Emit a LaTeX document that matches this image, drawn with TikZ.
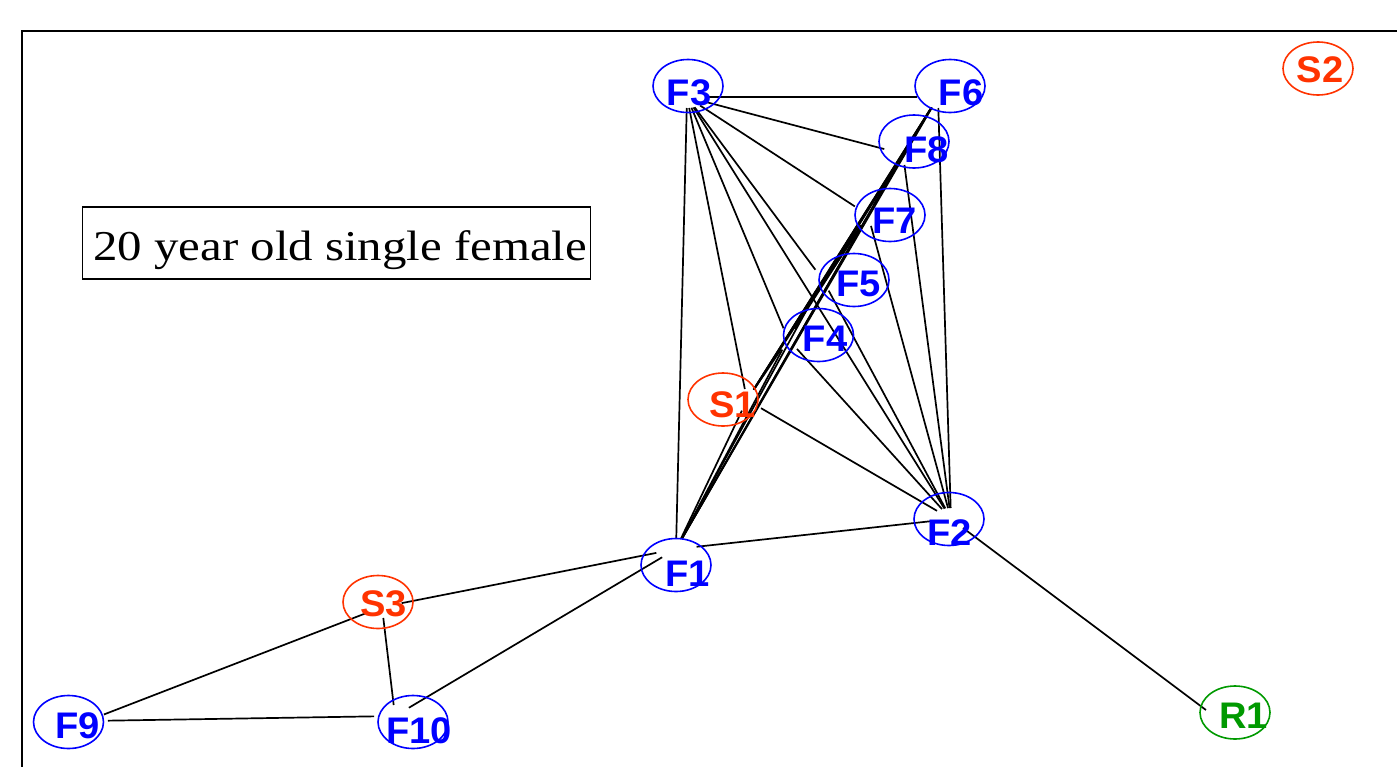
\documentclass[tikz,border=0pt]{standalone}
\usepackage{fontspec}
\setmainfont{Liberation Serif}
\newfontfamily\labfont{Liberation Sans}
\usetikzlibrary{shapes.geometric}
\definecolor{fblue}{RGB}{0,0,255}
\definecolor{sred}{RGB}{255,51,0}
\definecolor{rgreen}{RGB}{0,153,0}
\tikzset{
  vtx/.style={ellipse, minimum width=42pt, minimum height=22pt, inner sep=0pt, outer sep=0pt},
  ring/.style={ellipse, draw, line width=1.6pt, minimum width=70pt, minimum height=53pt, inner sep=0pt},
  lbl/.style={font=\labfont\bfseries\fontsize{37}{37}\selectfont, inner sep=0pt},
  edge/.style={draw=black, line width=1.7pt},
  fnode/.style={draw=fblue, text=fblue},
  snode/.style={draw=sred, text=sred},
  rnode/.style={draw=rgreen, text=rgreen},
}
\begin{document}
\begin{tikzpicture}[x=1pt,y=-1pt]
\useasboundingbox (0,0) rectangle (1397,766);
\clip (0,0) rectangle (1397,766);
% frame
\draw[line width=2.2pt] (22,800) -- (22,31) -- (1450,31);
% vertex anchors (edges end at their borders)
\node[vtx] (F3) at (687,97) {};
\node[vtx] (F6) at (938,97) {};
\node[vtx] (F8) at (903,154) {};
\node[vtx] (F7) at (868,215) {};
\node[vtx] (F5) at (823,280) {};
\node[vtx] (F4) at (788,339) {};
\node[vtx] (S1) at (747,400) {};
\node[vtx] (F2) at (951,519) {};
\node[vtx] (F1) at (676,549) {};
\node[vtx] (S3) at (382,607) {};
\node[vtx] (F9) at (87,721) {};
\node[vtx] (F10) at (395,716) {};
\node[vtx] (R1) at (1218,719) {};
% edges
\foreach \a/\b in {F1/F2,F1/F3,F1/F4,F1/F5,F1/F6,F1/F7,F1/F8,F1/S1,
  F2/F3,F2/F4,F2/F5,F2/F6,F2/F7,F2/F8,F2/S1,
  F3/F4,F3/F5,F3/F6,F3/F7,F3/F8,F3/S1,
  F4/F5,F4/F6,F4/F7,F4/F8,F4/S1,
  F5/F6,F5/F7,F5/F8,F5/S1,
  F6/F7,F6/F8,F6/S1,
  F7/F8,F7/S1,
  F8/S1,
  F1/S3,F1/F10,S3/F9,S3/F10,F9/F10,F2/R1}
  \draw[edge] (\a) -- (\b);
% label rings
\node[ring,fnode] (F3e) at (688,86) {};
\node[ring,fnode] (F6e) at (950,86) {};
\node[ring,fnode] (F8e) at (914,141.5) {};
\node[ring,fnode] (F7e) at (890,215) {};
\node[ring,fnode] (F5e) at (854,280) {};
\node[ring,fnode] (F4e) at (818.5,335) {};
\node[ring,snode] (S1e) at (723,399.5) {};
\node[ring,fnode] (F2e) at (949,519) {};
\node[ring,fnode] (F1e) at (676,565) {};
\node[ring,snode] (S3e) at (378,602) {};
\node[ring,fnode] (F9e) at (68.5,722) {};
\node[ring,fnode] (F10e) at (413,722) {};
\node[ring,rnode] (R1e) at (1235,712.5) {};
\node[ring,snode] (S2e) at (1318,68.5) {};
% label texts
\node[lbl,text=fblue] (F3t) at (689,92.5) {\scalebox{1.03}[1]{F3}};
\node[lbl,text=fblue] (F6t) at (961,92.5) {\scalebox{1.03}[1]{F6}};
\node[lbl,text=fblue] (F8t) at (926.5,150) {\scalebox{1.03}[1]{F8}};
\node[lbl,text=fblue] (F7t) at (894.5,220.5) {\scalebox{1.03}[1]{F7}};
\node[lbl,text=fblue] (F5t) at (858.5,284) {\scalebox{1.03}[1]{F5}};
\node[lbl,text=fblue] (F4t) at (825,339) {\scalebox{1.03}[1]{F4}};
\node[lbl,text=sred] (S1t) at (732.5,404.5) {\scalebox{1.03}[1]{S1}};
\node[lbl,text=fblue] (F2t) at (949.5,532.5) {\scalebox{1.03}[1]{F2}};
\node[lbl,text=fblue] (F1t) at (687.5,574) {\scalebox{1.03}[1]{F1}};
\node[lbl,text=sred] (S3t) at (383.5,604) {\scalebox{1.03}[1]{S3}};
\node[lbl,text=fblue] (F9t) at (77.5,725.5) {\scalebox{1.03}[1]{F9}};
\node[lbl,text=fblue] (F10t) at (419,730.5) {\scalebox{1.03}[1]{F10}};
\node[lbl,text=rgreen] (R1t) at (1243.5,715.5) {\scalebox{1.03}[1]{R1}};
\node[lbl,text=sred] (S2t) at (1320,70) {\scalebox{1.03}[1]{S2}};
% title box
\node[draw, line width=1.5pt, minimum width=508pt, minimum height=72pt, inner sep=0pt] (box) at (336.5,243) {};
\node[anchor=base west, inner sep=0pt] (title) at (93,260)
  {\scalebox{1.15}[1]{\fontsize{42.5}{42.5}\selectfont 20 year old single female}};
\end{tikzpicture}
\end{document}
